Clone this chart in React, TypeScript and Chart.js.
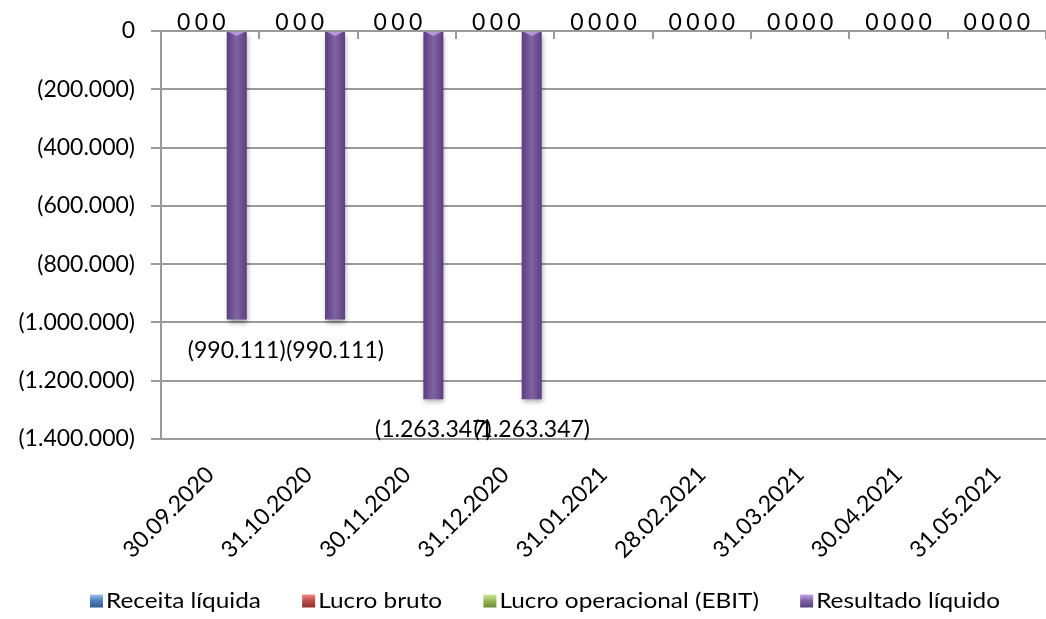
import React, { useEffect, useRef } from "react";
import { Chart, registerables } from "chart.js";

Chart.register(...registerables);

const categories = [
  "30.09.2020", "31.10.2020", "30.11.2020", "31.12.2020", "31.01.2021",
  "28.02.2021", "31.03.2021", "30.04.2021", "31.05.2021",
];
const seriesNames = ["Receita líquida", "Lucro bruto", "Lucro operacional (EBIT)", "Resultado líquido"];
const receitaLiquida = [0, 0, 0, 0, 0, 0, 0, 0, 0];
const lucroBruto = [0, 0, 0, 0, 0, 0, 0, 0, 0];
const lucroOperacional = [0, 0, 0, 0, 0, 0, 0, 0, 0];
const resultadoLiquido = [-990111, -990111, -1263347, -1263347, 0, 0, 0, 0, 0];
const seriesColors = ["#4F81BD", "#C0504D", "#9BBB59", "#8064A2"];
const seriesDark = ["#2f5a8f", "#8f2f2c", "#6b8a34", "#5a3e80"];
const seriesLight = ["#9cc3f0", "#f08a86", "#cfe89a", "#c2a6ec"];
const yMin = -1400000;
const yMax = 0;
const yStep = 200000;

const FONT = "Lato, 'Open Sans', sans-serif";
const GRID = "#9a9a9a";

function fmt(v: number): string {
  if (v === 0) return "0";
  const s = Math.abs(v).toString().replace(/\B(?=(\d{3})+(?!\d))/g, ".");
  return v < 0 ? `(${s})` : s;
}

const barStylePlugin = {
  id: "barStyle",
  beforeDatasetsDraw(chart: any) {
    const ctx = chart.ctx;
    chart.data.datasets.forEach((ds: any, i: number) => {
      const meta = chart.getDatasetMeta(i);
      meta.data.forEach((el: any) => {
        const w = el.width || 1;
        const g = ctx.createLinearGradient(el.x - w / 2, 0, el.x + w / 2, 0);
        g.addColorStop(0, seriesDark[i]);
        g.addColorStop(0.5, seriesColors[i]);
        g.addColorStop(1, seriesDark[i]);
        el.options = Object.assign({}, el.options, { backgroundColor: g });
      });
    });
    ctx.save();
    ctx.shadowColor = "rgba(0,0,0,0.35)";
    ctx.shadowBlur = 5;
    ctx.shadowOffsetX = 1;
    ctx.shadowOffsetY = 3;
  },
  afterDatasetsDraw(chart: any) {
    const ctx = chart.ctx;
    ctx.restore();
    const xScale = chart.scales.x;
    const yScale = chart.scales.y;
    const zeroY = yScale.getPixelForValue(0);
    // bevel highlight at the top of each bar
    chart.data.datasets.forEach((ds: any, i: number) => {
      const meta = chart.getDatasetMeta(i);
      meta.data.forEach((el: any, j: number) => {
        if (ds.data[j] >= 0) return;
        const w = el.width;
        ctx.save();
        ctx.fillStyle = seriesLight[i];
        ctx.globalAlpha = 0.8;
        ctx.beginPath();
        ctx.moveTo(el.x - w / 2 + 2, el.base);
        ctx.lineTo(el.x + w / 2 - 2, el.base);
        ctx.lineTo(el.x, el.base + 4);
        ctx.closePath();
        ctx.fill();
        ctx.restore();
      });
    });
    // category tick marks on the zero line
    ctx.save();
    ctx.strokeStyle = GRID;
    ctx.lineWidth = 2;
    const n = categories.length;
    for (let k = 0; k <= n; k++) {
      const x = Math.round(xScale.left + (k * xScale.width) / n);
      ctx.beginPath();
      ctx.moveTo(x, zeroY);
      ctx.lineTo(x, zeroY + 8);
      ctx.stroke();
    }
    ctx.restore();
    // data labels
    ctx.save();
    ctx.font = `23px ${FONT}`;
    ctx.fillStyle = "#000";
    ctx.textAlign = "center";
    ctx.textBaseline = "alphabetic";
    chart.data.datasets.forEach((ds: any, i: number) => {
      const meta = chart.getDatasetMeta(i);
      meta.data.forEach((el: any, j: number) => {
        const v = ds.data[j];
        if (v < 0) {
          ctx.fillText(fmt(v), el.x, el.y + 38);
        } else {
          ctx.fillText(fmt(v), el.x, zeroY - 1);
        }
      });
    });
    ctx.restore();
  },
  afterDraw(chart: any) {
    const ctx = chart.ctx;
    ctx.save();
    ctx.font = `21px ${FONT}`;
    ctx.textBaseline = "middle";
    ctx.textAlign = "left";
    const hs = 1.16;
    const box = 13;
    const gapText = 3;
    const left = 90;
    const right = 1000;
    const widths = seriesNames.map((s) => ctx.measureText(s).width * hs);
    const used = widths.reduce((a, b) => a + b, 0) + seriesNames.length * (box + gapText);
    const gapItem = (right - left - used) / (seriesNames.length - 1);
    let x = left;
    const cy = 601;
    seriesNames.forEach((name, i) => {
      const g = ctx.createLinearGradient(0, cy - box / 2, 0, cy + box / 2);
      g.addColorStop(0, seriesLight[i]);
      g.addColorStop(0.45, seriesColors[i]);
      g.addColorStop(1, seriesDark[i]);
      ctx.fillStyle = g;
      ctx.fillRect(x, cy - box / 2, box, box);
      x += box + gapText;
      ctx.fillStyle = "#000";
      ctx.save();
      ctx.translate(x, cy);
      ctx.scale(hs, 1);
      ctx.fillText(name, 0, 0);
      ctx.restore();
      x += widths[i] + gapItem;
    });
    ctx.restore();
  },
};

export default function App() {
  const ref = useRef<HTMLCanvasElement>(null);
  useEffect(() => {
    if (!ref.current) return;
    const seriesData = [receitaLiquida, lucroBruto, lucroOperacional, resultadoLiquido];
    const chart = new Chart(ref.current, {
      type: "bar",
      data: {
        labels: categories,
        datasets: seriesNames.map((name, i) => ({
          label: name,
          data: seriesData[i],
          backgroundColor: seriesColors[i],
          borderWidth: 0,
          categoryPercentage: 0.72,
          barPercentage: 1.13,
        })),
      },
      options: {
        animation: false,
        responsive: false,
        devicePixelRatio: 1,
        layout: { padding: { top: 31, left: 0, right: 0, bottom: 50 } },
        plugins: {
          legend: { display: false },
          tooltip: { enabled: false },
        },
        scales: {
          x: {
            grid: { display: false, drawTicks: false },
            border: { display: false },
            ticks: {
              color: "#000",
              font: { family: FONT, size: 23 },
              minRotation: 45,
              maxRotation: 45,
              padding: 22,
              autoSkip: false,
            },
            afterFit: (s: any) => {
              s.height = 130;
            },
          },
          y: {
            min: yMin,
            max: yMax,
            grid: { color: GRID, lineWidth: 2, tickLength: 10, drawTicks: true },
            border: { color: GRID, width: 2 },
            ticks: {
              stepSize: yStep,
              color: "#000",
              font: { family: FONT, size: 23 },
              padding: 16,
              callback: (v: any) => fmt(Number(v)),
            },
            afterFit: (s: any) => {
              s.width = 161;
            },
          },
        },
      },
      plugins: [barStylePlugin],
    });
    return () => chart.destroy();
  }, []);
  return (
    <div style={{ position: "absolute", left: 0, top: 0, width: 1046, height: 619, background: "#fff" }}>
      <canvas ref={ref} width={1046} height={619} />
    </div>
  );
}
